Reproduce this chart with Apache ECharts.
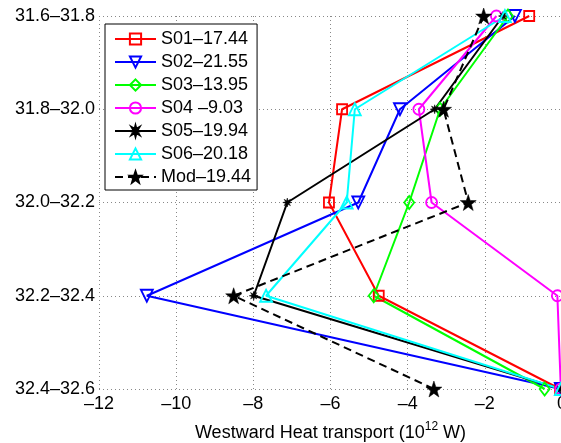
<!doctype html>
<html>
<head>
<meta charset="utf-8">
<script src="https://cdn.jsdelivr.net/npm/echarts@6/dist/echarts.min.js"></script>
<style>
  html, body { margin: 0; padding: 0; background: #fff; }
  #main { width: 561px; height: 443px; }
</style>
</head>
<body>
<div id="main"></div>
<script>
// latitude bands (top to bottom)
var bands = ['31.6–31.8', '31.8–32.0', '32.0–32.2', '32.2–32.4', '32.4–32.6'];
var xTicks = [-12, -10, -8, -6, -4, -2, 0];

// westward heat transport, 10^12 W
var s01 = [-0.85, -5.70, -6.04, -4.75, -0.05];
var s02 = [-1.22, -4.20, -5.28, -10.76, -0.03];
var s03 = [-1.40, -3.16, -3.96, -4.88, -0.45];
var s04 = [-1.70, -3.71, -3.38, -0.12, -0.03];
var s05 = [-1.53, -3.30, -7.12, -7.99, -0.03];
var s06 = [-1.48, -5.37, -5.58, -7.67, -0.03];
var mod = [-2.03, -3.07, -2.43, -8.51, -3.32];

var names = ['S01–17.44', 'S02–21.55', 'S03–13.95', 'S04 –9.03', 'S05–19.94', 'S06–20.18', 'Mod–19.44'];

function starPath(n, rIn) {
  var pts = [];
  for (var i = 0; i < n * 2; i++) {
    var r = i % 2 ? rIn : 1;
    var a = Math.PI * i / n - Math.PI / 2;
    pts.push((10 + 10 * r * Math.cos(a)).toFixed(2) + ',' + (10 + 10 * r * Math.sin(a)).toFixed(2));
  }
  return 'path://M' + pts.join('L') + 'Z';
}
var asterisk = starPath(8, 0.42);
var star = starPath(5, 0.4);

function mk(name, data, color, symbol, size, opt) {
  opt = opt || {};
  return {
    name: name,
    type: 'line',
    data: data.map(function (v, i) { return [v, bands[i]]; }),
    symbol: symbol,
    symbolSize: size,
    symbolRotate: opt.rotate || 0,
    showAllSymbol: true,
    clip: false,
    lineStyle: { color: color, width: 2, type: opt.dash ? [8, 5] : 'solid' },
    itemStyle: opt.filled
      ? { color: color, borderColor: color, borderWidth: 0.5 }
      : { color: 'rgba(255,255,255,0)', borderColor: color, borderWidth: 1.8 },
    emphasis: { disabled: true }
  };
}

var chart = echarts.init(document.getElementById('main'));
var font = "'Liberation Sans', Arial, Helvetica, sans-serif";

chart.setOption({
  animation: false,
  textStyle: { fontFamily: font },
  grid: { left: 99, right: -1, top: 16, bottom: 54, outerBoundsMode: 'none', containLabel: false },
  legend: {
    orient: 'vertical',
    left: 105, top: 24,
    data: names,
    backgroundColor: '#fff',
    borderColor: '#000',
    borderWidth: 1,
    padding: [6, 6, 4, 9],
    itemWidth: 41,
    itemHeight: 14,
    itemGap: 5,
    textStyle: { fontSize: 18, color: '#000', fontFamily: font, lineHeight: 18 }
  },
  xAxis: {
    type: 'value',
    min: -12, max: 0, interval: 2,
    name: 'Westward Heat transport (10{sup|12} W)',
    nameLocation: 'middle',
    nameGap: 32,
    nameTextStyle: {
      fontSize: 18, color: '#000', fontFamily: font,
      rich: { sup: { fontSize: 12, verticalAlign: 'bottom', padding: [0, 0, 12, 0], fontFamily: font } }
    },
    axisLine: { lineStyle: { color: '#000', width: 1 } },
    axisTick: { inside: true, length: 5, lineStyle: { color: '#000' } },
    axisLabel: {
      fontSize: 18, color: '#000', margin: 6,
      formatter: function (v) { return v < 0 ? '–' + (-v) : String(v); }
    },
    splitLine: { show: true, lineStyle: { type: [1, 3], color: '#888' } }
  },
  yAxis: {
    type: 'category',
    data: bands,
    inverse: true,
    boundaryGap: false,
    axisLine: { lineStyle: { color: '#000', width: 1 } },
    axisTick: { inside: true, length: 5, alignWithLabel: true, lineStyle: { color: '#000' } },
    axisLabel: { fontSize: 18, color: '#000', margin: 4 },
    splitLine: { show: true, lineStyle: { type: [1, 3], color: '#888' } }
  },
  series: [
    mk(names[0], s01, '#ff0000', 'rect', 10),
    mk(names[1], s02, '#0000ff', 'triangle', 12, { rotate: 180 }),
    mk(names[2], s03, '#00ff00', 'diamond', [10, 13]),
    mk(names[3], s04, '#ff00ff', 'circle', 11),
    mk(names[4], s05, '#000000', asterisk, 9, { filled: true }),
    mk(names[5], s06, '#00ffff', 'triangle', 12),
    mk(names[6], mod, '#000000', star, 16, { filled: true, dash: true })
  ]
});
</script>
</body>
</html>
